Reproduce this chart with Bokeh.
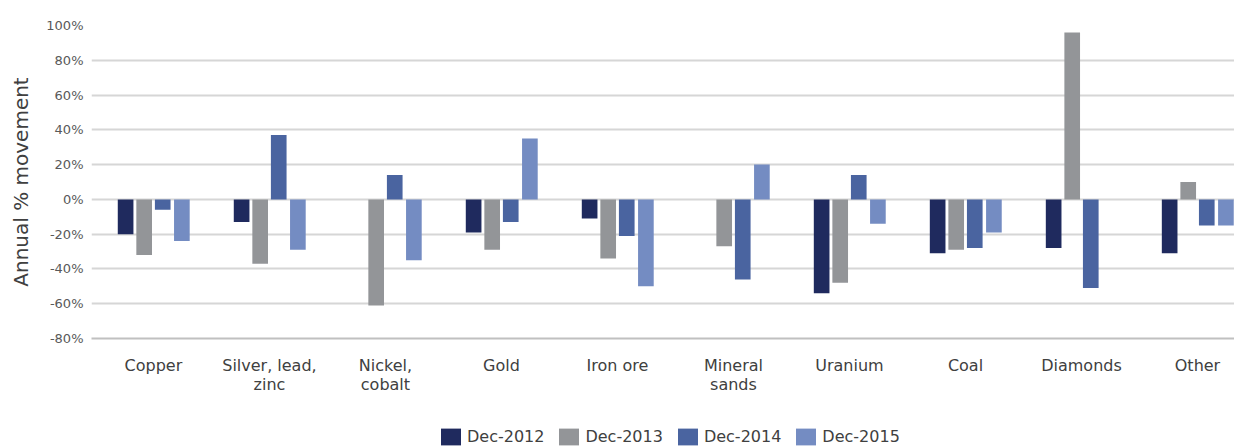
import numpy as np
from bokeh.plotting import figure
from bokeh.layouts import column
from bokeh.models import (ColumnDataSource, Range1d, FixedTicker, PrintfTickFormatter,
                          Legend, LegendItem)
from bokeh.embed import file_html
from bokeh.resources import INLINE

categories = ["Copper", "Silver, lead,\nzinc", "Nickel,\ncobalt", "Gold", "Iron ore",
              "Mineral\nsands", "Uranium", "Coal", "Diamonds", "Other"]
series_names = ["Dec-2012", "Dec-2013", "Dec-2014", "Dec-2015"]
nan = float("nan")
dec_2012 = [-20, -13, nan, -19, -11, nan, -54, -31, -28, -31]
dec_2013 = [-32, -37, -61, -29, -34, -27, -48, -29, 96, 10]
dec_2014 = [-6, 37, 14, -13, -21, -46, 14, -28, -51, -15]
dec_2015 = [-24, -29, -35, 35, -50, 20, -14, -19, nan, -15]
colors = ["#1F2A5E", "#939598", "#4A64A0", "#748CC2"]
y_ticks = [-80, -60, -40, -20, 0, 20, 40, 60, 80, 100]

FONT = "DejaVu Sans"

# ---- main chart ----
p = figure(width=1234, height=398, output_backend="svg", toolbar_location=None,
           x_range=Range1d(-0.534, 9.319), y_range=Range1d(-80, 100),
           min_border_left=91, min_border_right=0, min_border_top=25, min_border_bottom=60)
p.outline_line_color = None
p.background_fill_color = "white"
p.border_fill_color = "white"

xs = np.arange(len(categories))
offsets = [-0.24, -0.08, 0.08, 0.245]
bar_w = 0.135
all_series = [dec_2012, dec_2013, dec_2014, dec_2015]
for vals, off, col in zip(all_series, offsets, colors):
    src = ColumnDataSource(dict(x=xs + off, top=vals))
    p.vbar(x="x", top="top", bottom=0, width=bar_w, source=src,
           fill_color=col, line_color=None)

p.xaxis.ticker = FixedTicker(ticks=list(range(len(categories))))
p.xaxis.major_label_overrides = {i: c for i, c in enumerate(categories)}
p.xaxis.major_tick_line_color = None
p.xaxis.major_tick_out = 0
p.xaxis.minor_tick_line_color = None
p.xaxis.axis_line_color = "#c0c0c0"
p.xaxis.axis_line_width = 2
p.xaxis.major_label_standoff = 17
p.xaxis.major_label_text_font = FONT
p.xaxis.major_label_text_font_size = "16px"
p.xaxis.major_label_text_color = "#404040"
p.xaxis.major_label_text_line_height = 1.0

p.yaxis.ticker = FixedTicker(ticks=y_ticks)
p.yaxis.formatter = PrintfTickFormatter(format="%d%%")
p.yaxis.major_tick_line_color = None
p.yaxis.major_tick_out = 0
p.yaxis.minor_tick_line_color = None
p.yaxis.axis_line_color = None
p.yaxis.major_label_standoff = 8
p.yaxis.major_label_text_font = FONT
p.yaxis.major_label_text_font_size = "13px"
p.yaxis.major_label_text_color = "#595959"
p.yaxis.axis_label = "Annual % movement"
p.yaxis.axis_label_text_font = FONT
p.yaxis.axis_label_text_font_size = "20px"
p.yaxis.axis_label_text_font_style = "normal"
p.yaxis.axis_label_text_color = "#404040"
p.yaxis.axis_label_standoff = 10

p.xgrid.grid_line_color = None
p.ygrid.ticker = FixedTicker(ticks=y_ticks)
p.ygrid.grid_line_color = "#d6d6d6"
p.ygrid.grid_line_width = 2

# ---- legend strip (its frame is aligned with the chart's frame by the column) ----
q = figure(width=1234, height=49, output_backend="svg", toolbar_location=None,
           x_range=Range1d(0, 1), y_range=Range1d(0, 1),
           x_axis_location=None, y_axis_location=None,
           min_border_left=0, min_border_right=0, min_border_top=0, min_border_bottom=0)
q.outline_line_color = None
q.xgrid.grid_line_color = None
q.ygrid.grid_line_color = None
leg_renderers = []
for col in colors:
    # zero-size swatch carriers: nothing is drawn in the strip itself
    leg_renderers.append(q.vbar(x=[0], top=[0], bottom=[0], width=0,
                                fill_color=col, line_color=None))

legend = Legend(items=[LegendItem(label=n, renderers=[r]) for n, r in zip(series_names, leg_renderers)],
                orientation="horizontal", location=(347, 0),
                glyph_width=25, glyph_height=21, label_standoff=4, spacing=12,
                padding=0, margin=0, border_line_color=None, background_fill_alpha=0,
                label_text_font=FONT, label_text_font_size="16px", label_text_color="#404040")
q.add_layout(legend, "center")

layout = column(p, q, spacing=0)
open("out.html", "w").write(file_html(layout, INLINE))
